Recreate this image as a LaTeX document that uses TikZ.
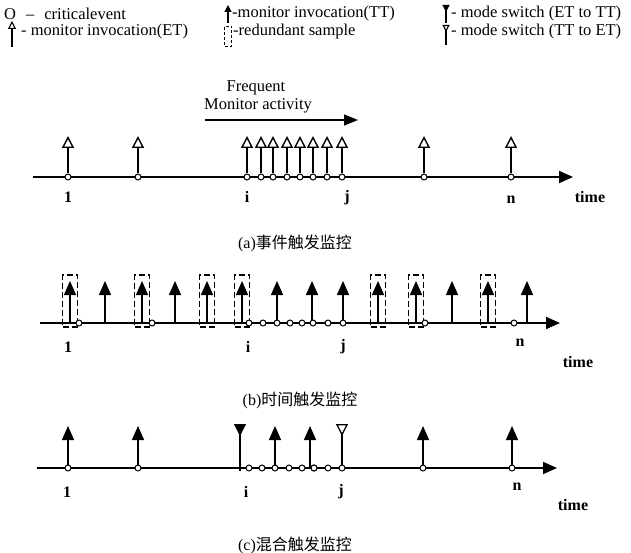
\documentclass[tikz,border=0pt]{standalone}
\usepackage{fontspec}
\setmainfont{Liberation Serif}
\newfontfamily\cjk{Noto Sans CJK SC}
\usepackage{tikz}
\usetikzlibrary{arrows.meta,positioning}

\tikzset{
  evt/.style={circle, draw, line width=1pt, fill=white, inner sep=0pt, minimum size=6pt},
  axisline/.style={line width=1.8pt, -{Triangle[width=12pt,length=14pt]}},
  etstem/.style={line width=1.4pt, -{Triangle[open,width=12pt,length=12pt,line width=1.4pt]}},
  ttstem/.style={line width=1.4pt, -{Triangle[width=12pt,length=14pt]}},
  swon/.style={line width=1.2pt, -{Triangle[reversed,width=12pt,length=12pt]}},
  swoff/.style={line width=1.2pt, -{Triangle[reversed,open,width=12pt,length=12pt,line width=1.3pt]}},
  redbox/.style={draw, dash pattern=on 6pt off 3pt, line width=1.1pt, minimum width=15pt, minimum height=52pt, inner sep=0pt},
  tlabel/.style={font=\fontsize{16}{16}\selectfont\bfseries, inner sep=0pt},
  legtext/.style={font=\fontsize{16.5}{16.5}\selectfont, anchor=west, inner sep=0pt},
  capt/.style={font=\fontsize{16}{16}\selectfont, inner sep=0pt},
}

\begin{document}
\begin{tikzpicture}[x=1pt,y=-1pt]
\useasboundingbox (0,0) rectangle (631,553);

% legend
\node[legtext] (lgce) at (4,14) {O\hspace{10pt}–\hspace{10pt}criticalevent};
\coordinate (lget0) at (12,47); \coordinate (lget1) at (12,21);
\draw[line width=1.1pt, -{Triangle[open,width=8pt,length=8pt,line width=1.1pt]}] (lget0) -- (lget1);
\node[legtext] (lget) at (21,32) {- monitor invocation(ET)};
\coordinate (lgtt0) at (228,23); \coordinate (lgtt1) at (228,5);
\draw[line width=1.1pt, -{Triangle[width=7pt,length=7pt]}] (lgtt0) -- (lgtt1);
\node[legtext] (lgtt) at (232,14) {-monitor invocation(TT)};
\node[draw, dash pattern=on 3pt off 2pt, line width=0.9pt, minimum width=7pt, minimum height=20pt, inner sep=0pt] (lgrb) at (228,36) {};
\node[legtext] (lgrs) at (233,32) {-redundant sample};
\coordinate (lgon0) at (446,23); \coordinate (lgon1) at (446,5);
\draw[line width=1.1pt, -{Triangle[reversed,width=7pt,length=7pt]}] (lgon0) -- (lgon1);
\node[legtext] (lgon) at (451,14) {- mode switch (ET to TT)};
\coordinate (lgoff0) at (446,45); \coordinate (lgoff1) at (446,25);
\draw[line width=1.1pt, -{Triangle[reversed,open,width=7pt,length=7pt,line width=1.1pt]}] (lgoff0) -- (lgoff1);
\node[legtext] (lgoff) at (451,32) {- mode switch (TT to ET)};

% frequent monitor activity
\node[legtext, anchor=center] (freq) at (256,88) {Frequent};
\node[legtext, anchor=center] (mact) at (258,106) {Monitor activity};
\coordinate (fa) at (205,120); \coordinate (fb) at (358,120);
\draw[line width=1.5pt, -{Triangle[width=11pt,length=14pt]}] (fa) -- (fb);

% (a) event triggered
\coordinate (astart) at (33,177); \coordinate (aend) at (573,177);
\draw[axisline] (astart) -- (aend);
\foreach \x [count=\k] in {68,138,247,261,273,287,300,313,327,342,424,511} {
  \node[evt] (a\k) at (\x,177) {};
  \coordinate (at\k) at (\x,136);
  \draw[etstem] (a\k) -- (at\k);
}
\node[tlabel] (la1) at (68,197) {1};
\node[tlabel] (lai) at (247,197) {i};
\node[tlabel] (laj) at (347,198) {j};
\node[tlabel] (lan) at (511,200) {n};
\node[tlabel] (lat) at (590,197) {time};
\node[capt] (capa) at (295,243) {(a){\cjk 事件触发监控}};

% (b) time triggered
\coordinate (bstart) at (40,323); \coordinate (bend) at (560,323);
\draw[axisline] (bstart) -- (bend);
\foreach \x [count=\k] in {70,142,207,242,378,416,488}
  \node[redbox] (r\k) at (\x,301) {};
\foreach \x [count=\k] in {70,105,142,175,207,242,277,312,343,378,416,452,488,527} {
  \coordinate (bb\k) at (\x,323);
  \coordinate (bt\k) at (\x,281);
  \draw[ttstem] (bb\k) -- (bt\k);
}
\foreach \x [count=\k] in {79,152,249,263,277,290,302,313,328,343,425,514}
  \node[evt] (b\k) at (\x,323) {};
\node[tlabel] (lb1) at (68,347) {1};
\node[tlabel] (lbi) at (248,347) {i};
\node[tlabel] (lbj) at (343,347) {j};
\node[tlabel] (lbn) at (520,343) {n};
\node[tlabel] (lbt) at (578,362) {time};
\node[capt] (capb) at (300,400) {(b){\cjk 时间触发监控}};

% (c) hybrid triggered
\coordinate (cstart) at (37,468); \coordinate (cend) at (557,468);
\draw[axisline] (cstart) -- (cend);
\foreach \x [count=\k] in {68,138,249,262,275,289,302,314,328,342,423,512}
  \node[evt] (c\k) at (\x,468) {};
\foreach \x/\k in {68/1,138/2,275/5,423/11,512/12} {
  \coordinate (ct\k) at (\x,426);
  \draw[ttstem] (c\k) -- (ct\k);
}
\coordinate (cm0) at (310,468); \coordinate (cm1) at (310,426);
\draw[ttstem] (cm0) -- (cm1);
\node[evt] (c8) at (314,468) {};
\coordinate (cs0) at (240,471); \coordinate (cs1) at (240,424);
\draw[swon] (cs0) -- (cs1);
\coordinate (cs2) at (342,424);
\draw[swoff] (c10) -- (cs2);
\node[tlabel] (lc1) at (67,492) {1};
\node[tlabel] (lci) at (246,492) {i};
\node[tlabel] (lcj) at (341,492) {j};
\node[tlabel] (lcn) at (517,487) {n};
\node[tlabel] (lct) at (573,505) {time};
\node[capt] (capc) at (295,545) {(c){\cjk 混合触发监控}};
\end{tikzpicture}
\end{document}
